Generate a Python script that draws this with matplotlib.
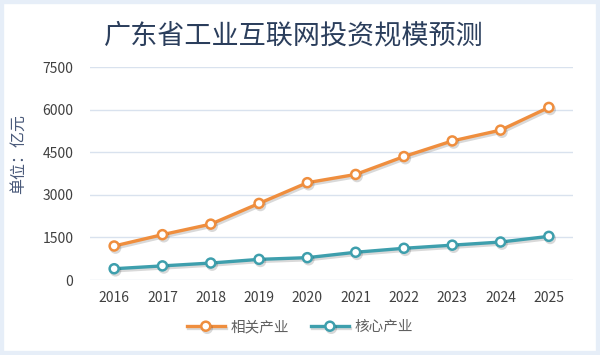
import matplotlib.pyplot as plt
import matplotlib.patheffects as pe
from matplotlib.patches import Rectangle

plt.rcParams['font.family'] = ['Noto Sans CJK SC', 'DejaVu Sans']

years = ['2016', '2017', '2018', '2019', '2020', '2021', '2022', '2023', '2024', '2025']
xiangguan = [1200, 1600, 1970, 2700, 3430, 3720, 4350, 4900, 5280, 6080]
hexin = [400, 500, 600, 730, 790, 980, 1120, 1230, 1340, 1540]

fig = plt.figure(figsize=(6, 3.55), dpi=100)
fig.patch.set_facecolor('white')

# light blue frame round the picture
fig.patches.append(Rectangle((0, 0), 1, 1, transform=fig.transFigure,
                             fill=False, edgecolor='#E6EEF8', lw=6, zorder=0))

ax = fig.add_axes([0.15, 0.211, 0.805, 0.6])
x = range(len(years))
shadow = [pe.SimpleLineShadow(offset=(1, -1.5), alpha=0.15), pe.Normal()]
ax.plot(x, xiangguan, color='#EF8E3E', lw=2.4, marker='o', ms=6.5,
        mfc='white', mec='#EF8E3E', mew=1.8, label='相关产业', zorder=3,
        path_effects=shadow)
ax.plot(x, hexin, color='#3E9FAD', lw=2.4, marker='o', ms=6.5,
        mfc='white', mec='#3E9FAD', mew=1.8, label='核心产业', zorder=3,
        path_effects=shadow)

ax.set_xlim(-0.5, 9.5)
ax.set_ylim(0, 7500)
ax.set_yticks([0, 1500, 3000, 4500, 6000, 7500])
ax.set_xticks(list(x))
ax.set_xticklabels(years)
ax.tick_params(length=0, labelsize=10, labelcolor='#404040', pad=8)
ax.tick_params(axis='y', pad=12)
for s in ax.spines.values():
    s.set_visible(False)
ax.grid(axis='y', color='#D9E2EE', lw=1)
ax.set_axisbelow(True)

ax.set_ylabel('单位：亿元', color='#4A5A7A', fontsize=11.5)
ax.yaxis.set_label_coords(-0.13, 0.59)

fig.text(0.49, 0.9, '广东省工业互联网投资规模预测', ha='center', va='center',
         fontsize=19.5, color='#2B3E5C')

fig.legend(loc='center', bbox_to_anchor=(0.5, 0.078), ncol=2, frameon=False,
           fontsize=10.5, labelcolor='#606060', handlelength=2.6, columnspacing=1.5,
           handletextpad=0.4)

fig.savefig('out.png', dpi=100, facecolor='white')
